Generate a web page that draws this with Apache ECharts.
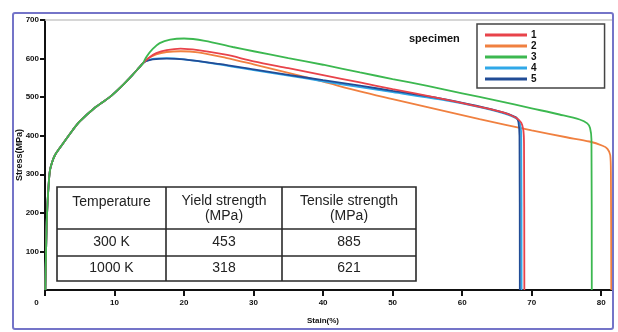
<!DOCTYPE html>
<html>
<head>
<meta charset="utf-8">
<script src="https://cdn.jsdelivr.net/npm/echarts@6/dist/echarts.min.js"></script>
<style>
  html, body { margin: 0; padding: 0; background: #fff; }
  #chart { width: 618px; height: 332px; }
</style>
</head>
<body>
<div id="chart"></div>
<script>
// Tensile curves, strain (%) vs. stress (MPa)
const specimenNames = ['1', '2', '3', '4', '5'];

// elastic rise and early hardening, common to all specimens
const sharedRise = [[0.05, 0], [0.15, 100], [0.3, 200], [0.55, 280], [0.72, 311], [1.0, 330], [1.44, 350],
  [2.2, 370], [3.0, 390], [4.0, 415], [5.0, 437], [7.0, 470], [9.3, 500], [11.0, 528], [12.5, 556],
  [13.6, 578], [14.1, 588]];

const specimen1 = [[15, 603], [16, 614], [17.5, 622], [19.5, 626], [22, 622], [26, 610], [30, 593],
  [35, 575], [40, 557], [45.3, 538], [50, 521], [56.8, 497], [62, 477], [66, 460], [67.8, 446],
  [68.5, 434], [68.8, 415], [68.9, 380], [68.95, 0]];
const specimen2 = [[14.8, 600], [16, 611], [17.5, 617], [19.5, 619], [22, 616], [26, 602], [30, 585],
  [35, 563], [40, 540], [45.3, 515], [50, 495], [55, 474], [62.5, 443], [70, 414], [75, 396],
  [78.3, 385], [80.2, 374], [80.9, 366], [81.3, 350], [81.4, 300], [81.45, 0]];
const specimen3 = [[14.6, 605], [15.5, 625], [16.5, 640], [18, 649], [20, 652], [23, 646], [27, 630],
  [30, 619], [35, 601], [40, 584], [45.3, 564], [50, 547], [55, 529], [60, 510], [65, 491], [70, 471],
  [74, 455], [76.9, 442], [78, 432], [78.4, 420], [78.6, 390], [78.65, 0]];
const specimen4 = [[14.5, 593], [15.5, 599], [17.5, 601], [20, 598], [25, 585], [30, 570], [35, 556],
  [40, 541], [45.3, 526], [50, 513], [56.8, 494], [62, 476], [66, 458], [67.8, 445], [68.3, 433],
  [68.5, 400], [68.55, 0]];
const specimen5 = [[14.5, 593], [15.5, 598], [17.5, 600], [20, 598], [25, 586], [30, 572], [35, 558],
  [40, 544], [45.3, 530], [50, 516], [56.8, 497], [62, 478], [66, 460], [67.8, 447], [68.1, 435],
  [68.25, 400], [68.3, 0]];

const xTicks = [0, 10, 20, 30, 40, 50, 60, 70, 80];
const yTicks = [100, 200, 300, 400, 500, 600, 700];

// summary table
const tableHeader = ['Temperature', 'Yield strength\n(MPa)', 'Tensile strength\n(MPa)'];
const temperatures = ['300 K', '1000 K'];
const yieldStrength = [453, 318];
const tensileStrength = [885, 621];

const colors = ['#e8434a', '#f08040', '#3cb850', '#30a8e8', '#214c96'];
const curves = [specimen1, specimen2, specimen3, specimen4, specimen5];

const chart = echarts.init(document.getElementById('chart'), null, { renderer: 'canvas' });

const tickFont = { fontFamily: 'Liberation Sans Narrow, Liberation Sans, Arial, sans-serif', fontWeight: 'bold', fontSize: 8, color: '#111' };

// table geometry
const colX = [57, 166, 282, 416];
const rowY = [187, 229, 256, 281];
const tableGraphics = [{
  type: 'rect', shape: { x: colX[0], y: rowY[0], width: colX[3] - colX[0], height: rowY[3] - rowY[0] },
  style: { fill: '#fff', stroke: '#2a2a2a', lineWidth: 1.6 }, z: 10
}];
for (let i = 1; i < 3; i++) {
  tableGraphics.push({ type: 'line', shape: { x1: colX[i], y1: rowY[0], x2: colX[i], y2: rowY[3] },
    style: { stroke: '#2a2a2a', lineWidth: 1.6 }, z: 11 });
  tableGraphics.push({ type: 'line', shape: { x1: colX[0], y1: rowY[i], x2: colX[3], y2: rowY[i] },
    style: { stroke: '#2a2a2a', lineWidth: 1.6 }, z: 11 });
}
const cellFont = { fontFamily: 'Liberation Sans, Arial, sans-serif', fontSize: 14, fill: '#222', align: 'center', verticalAlign: 'middle', lineHeight: 15 };
tableHeader.forEach((t, c) => {
  const cx = (colX[c] + colX[c + 1]) / 2;
  const cy = t.indexOf('\n') >= 0 ? 209 : 202;
  tableGraphics.push({ type: 'text', x: cx, y: cy, style: Object.assign({ text: t }, cellFont), z: 12 });
});
temperatures.forEach((t, r) => {
  const cy = (rowY[r + 1] + rowY[r + 2]) / 2;
  const cells = [t, String(yieldStrength[r]), String(tensileStrength[r])];
  cells.forEach((v, c) => {
    const cx = (colX[c] + colX[c + 1]) / 2;
    tableGraphics.push({ type: 'text', x: cx, y: cy, style: Object.assign({ text: v }, cellFont), z: 12 });
  });
});

const drawOrder = [1, 3, 4, 0, 2];
const series = drawOrder.map(i => ({
  name: specimenNames[i],
  type: 'line',
  data: sharedRise.concat(curves[i]),
  smooth: 0.3,
  showSymbol: false,
  symbol: 'none',
  lineStyle: { color: colors[i], width: 1.8 },
  itemStyle: { color: colors[i] },
  z: 3 + drawOrder.indexOf(i)
}));
// faint top border of the plot area
series[0].markLine = {
  silent: true, symbol: 'none', label: { show: false },
  lineStyle: { color: '#c8c8c8', type: 'solid', width: 1.5 },
  data: [{ yAxis: 700 }]
};

chart.setOption({
  animation: false,
  backgroundColor: '#fff',
  grid: { left: 45, right: 5, top: 20, bottom: 42 },
  xAxis: {
    type: 'value', min: 0, max: 81.7,
    name: 'Stain(%)', nameLocation: 'middle', nameGap: 27, nameMoveOverlap: false,
    nameTextStyle: Object.assign({}, tickFont, { fontSize: 8, padding: [0, 12, 0, 0] }),
    axisLine: { lineStyle: { color: '#111', width: 2 } },
    axisTick: { customValues: xTicks, length: 6, lineStyle: { color: '#111', width: 2 } },
    axisLabel: Object.assign({}, tickFont, {
      customValues: xTicks, margin: 9,
      formatter: v => v === 0 ? '{z|0}' : String(v),
      rich: { z: Object.assign({}, tickFont, { padding: [0, 17, 0, 0] }) }
    }),
    splitLine: { show: false }
  },
  yAxis: {
    type: 'value', min: 0, max: 700, interval: 100,
    name: 'Stress(MPa)', nameLocation: 'middle', nameGap: 21, nameMoveOverlap: false,
    nameTextStyle: Object.assign({}, tickFont, { fontSize: 9 }),
    axisLine: { show: true, lineStyle: { color: '#111', width: 2 } },
    axisTick: { customValues: yTicks, length: 5, lineStyle: { color: '#111', width: 2 } },
    axisLabel: Object.assign({}, tickFont, { customValues: yTicks, margin: 6 }),
    splitLine: { show: false }
  },
  legend: {
    data: specimenNames,
    orient: 'vertical', left: 477, top: 24,
    backgroundColor: '#fff',
    borderColor: '#444', borderWidth: 1.5,
    padding: [6, 68, 4, 8],
    icon: 'rect', itemWidth: 42, itemHeight: 3, itemGap: 1,
    textStyle: { fontFamily: 'Liberation Sans, Arial, sans-serif', fontWeight: 'bold', fontSize: 10, lineHeight: 10, color: '#111', padding: [0, 0, 0, -1] }
  },
  title: {
    text: 'specimen', left: 404, top: 28,
    textStyle: { fontFamily: 'Liberation Sans, Arial, sans-serif', fontWeight: 'bold', fontSize: 11, color: '#111' }
  },
  graphic: [{
    type: 'rect', shape: { x: 13, y: 13, width: 600, height: 316, r: 2 },
    style: { fill: 'none', stroke: '#7474c8', lineWidth: 2 }, z: 100, silent: true
  }].concat(tableGraphics),
  series: series
});
</script>
</body>
</html>
